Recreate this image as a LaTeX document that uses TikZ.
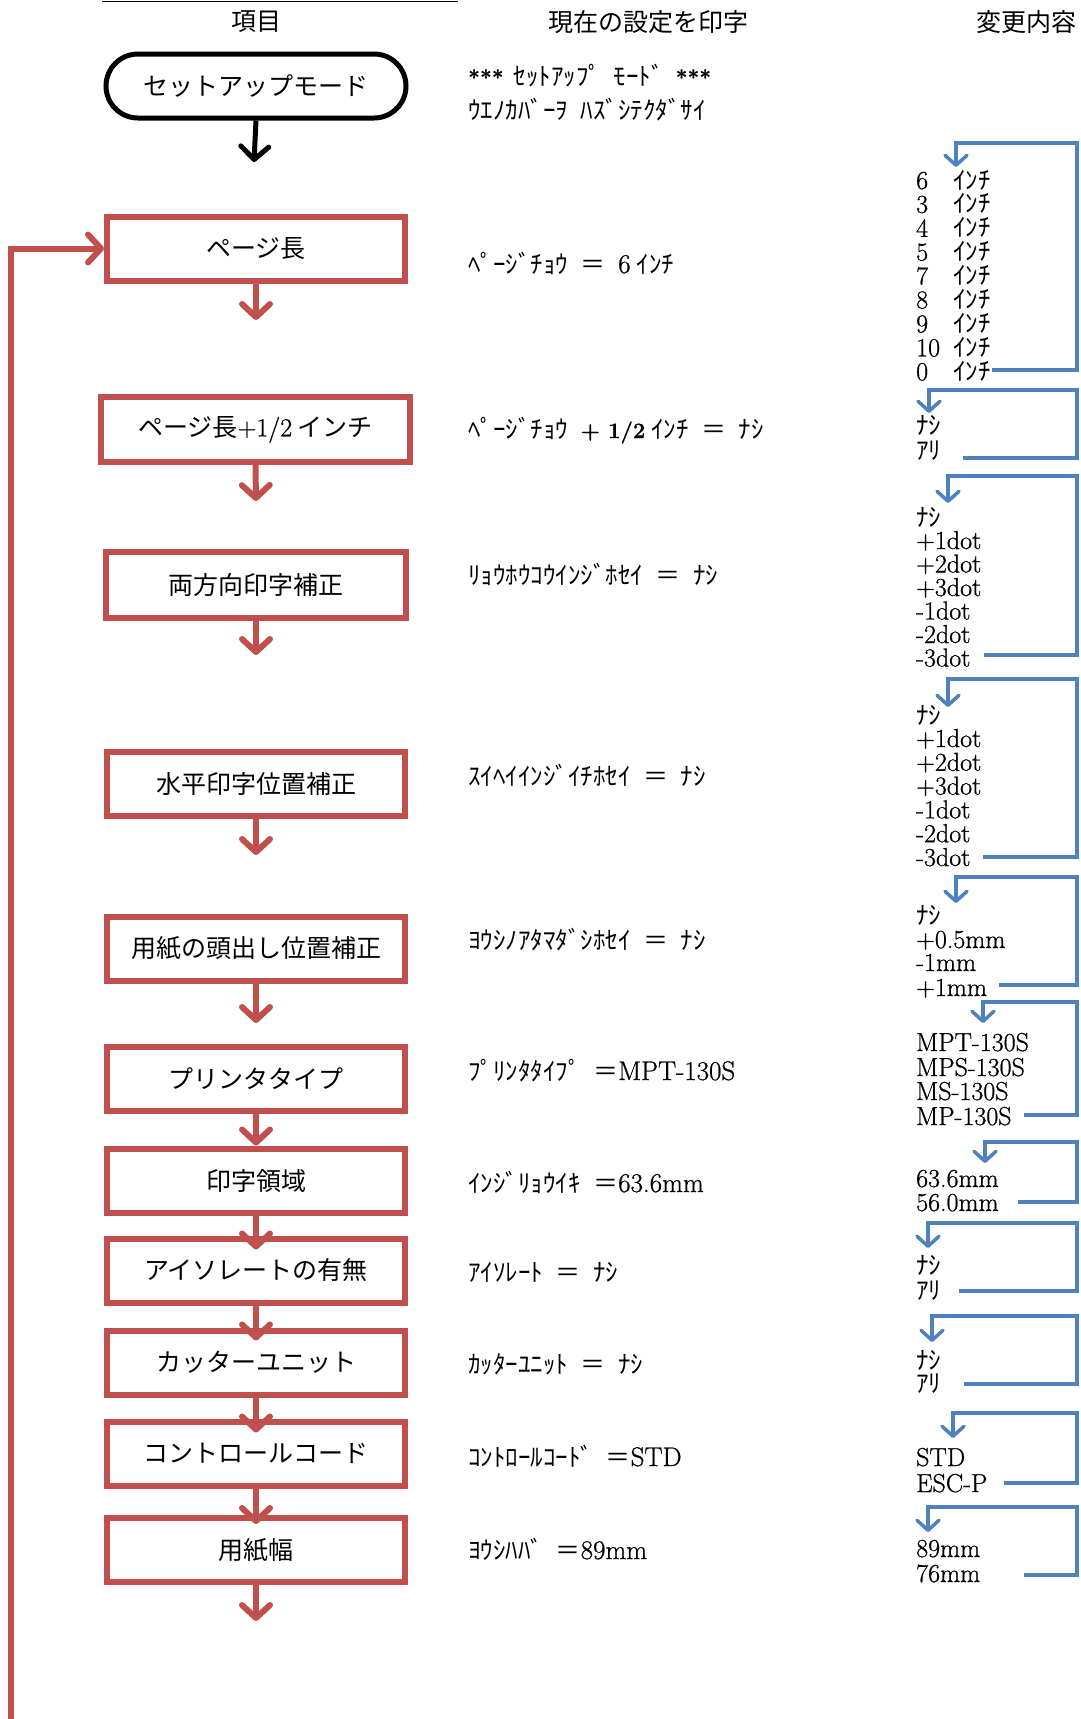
\documentclass[tikz,border=0pt]{standalone}
\usepackage{fontspec}
\setmainfont{Latin Modern Roman}[FakeBold=0.8]
\newfontfamily\jp{Noto Sans CJK JP}
\usetikzlibrary{arrows.meta}
\definecolor{ored}{HTML}{C0504D}
\definecolor{oblue}{HTML}{4F81BD}
\newcommand{\hsp}{\hspace{12.5pt}}
\newcommand{\jtx}[1]{{\jp\fontsize{25}{30}\selectfont #1}}
\tikzset{
  jpfont/.style={font={\jp\fontsize{25}{30}\selectfont}},
  hdr/.style={jpfont, inner sep=0pt},
  redbox/.style={draw=ored, line width=6pt, minimum width=298pt, minimum height=64pt, inner sep=0pt, jpfont},
  startbox/.style={draw=black, line width=5pt, rounded corners=32pt, minimum width=300pt, minimum height=64pt, inner sep=0pt, jpfont},
  redarr/.style={draw=ored, line width=6pt, -{Straight Barb[length=13pt,width=28pt,round]}},
  blkarr/.style={draw=black, line width=5pt, -{Straight Barb[length=13pt,width=28pt,round]}},
  blueloop/.style={draw=oblue, line width=3.5pt, -{Straight Barb[length=10pt,width=22pt,round]}},
  midtxt/.style={anchor=base west, inner sep=0pt, font={\fontsize{27}{30}\selectfont}},
  rnum/.style={anchor=base west, inner sep=0pt, font={\fontsize{26}{30}\selectfont}},
  rkana/.style={anchor=base west, inner sep=0pt, jpfont},
}
\begin{document}
\begin{tikzpicture}[x=1pt,y=-1pt]
\useasboundingbox[fill=white] (0,0) rectangle (1080,1719);

% header
\coordinate (hl1) at (102,1.5);
\coordinate (hl2) at (458,1.5);
\draw[line width=1.5pt] (hl1) -- (hl2);
\node[hdr] (h1) at (256,22) {項目};
\node[hdr] (h2) at (648,22) {現在の設定を印字};
\node[hdr] (h3) at (1026,22) {変更内容};

% flow column
\node[startbox] (start) at (256,86) {セットアップモード};
\node[redbox] (b1) at (256,248.5) {ページ長};
\node[redbox, minimum width=309pt, minimum height=65pt] (b2) at (255.5,429.5) {ページ長{\rmfamily\fontsize{26}{30}\selectfont +1/2} インチ};
\node[redbox, minimum width=300pt, minimum height=66pt] (b3) at (256,585) {両方向印字補正};
\node[redbox] (b4) at (256,783.5) {水平印字位置補正};
\node[redbox] (b5) at (256,948.5) {用紙の頭出し位置補正};
\node[redbox] (b6) at (256,1078.5) {プリンタタイプ};
\node[redbox] (b7) at (256,1180.5) {印字領域};
\node[redbox] (b8) at (256,1270.5) {アイソレートの有無};
\node[redbox] (b9) at (256,1362.5) {カッターユニット};
\node[redbox] (b10) at (256,1453.5) {コントロールコード};
\node[redbox] (b11) at (256,1550) {用紙幅};

\coordinate (a0) at (254,162);
\coordinate (a1) at (256,320);
\coordinate (a2) at (256,501);
\coordinate (a3) at (256,655);
\coordinate (a4) at (256,855);
\coordinate (a5) at (256,1023);
\coordinate (a11) at (256,1621);
\draw[blkarr] (start.south) -- (a0);
\draw[redarr] (b1.south) -- (a1);
\draw[redarr] (b2.south) -- (a2);
\draw[redarr] (b3.south) -- (a3);
\draw[redarr] (b4.south) -- (a4);
\draw[redarr] (b5.south) -- (a5);
\draw[redarr] (b6.south) -- (b7.north);
\draw[redarr] (b7.south) -- ([yshift=-14pt]b8.north);
\draw[redarr] (b8.south) -- ([yshift=-13pt]b9.north);
\draw[redarr] (b9.south) -- ([yshift=-14pt]b10.north);
\draw[redarr] (b10.south) -- ([yshift=-9pt]b11.north);
\draw[redarr] (b11.south) -- (a11);

% return line
\coordinate (ret) at (11,1722);
\draw[redarr] (ret) |- (b1.west);

% middle column
\node[midtxt] (m1) at (468,85) {{\bfseries\fontsize{21}{25}\selectfont ***}\hspace{10pt}\jtx{ｾｯﾄｱｯﾌﾟ\hsp ﾓｰﾄﾞ}\hspace{12pt}{\bfseries\fontsize{21}{25}\selectfont ***}};
\node[midtxt] (m2) at (468,119) {\jtx{ｳｴﾉｶﾊﾞｰｦ\hsp ﾊｽﾞｼﾃｸﾀﾞｻｲ}};
\node[midtxt] (m3) at (468,273) {\jtx{ﾍﾟｰｼﾞﾁｮｳ\hsp＝\hsp}6\hspace{6pt}\jtx{ｲﾝﾁ}};
\node[midtxt] (m4) at (468,438) {\jtx{ﾍﾟｰｼﾞﾁｮｳ}\hsp{\bfseries\fontsize{22}{26}\selectfont + 1/2}\hspace{6pt}\jtx{ｲﾝﾁ\hsp＝\hsp ﾅｼ}};
\node[midtxt] (m5) at (468,584) {\jtx{ﾘｮｳﾎｳｺｳｲﾝｼﾞﾎｾｲ\hsp＝\hsp ﾅｼ}};
\node[midtxt] (m6) at (468,785) {\jtx{ｽｲﾍｲｲﾝｼﾞｲﾁﾎｾｲ\hsp＝\hsp ﾅｼ}};
\node[midtxt] (m7) at (468,949) {\jtx{ﾖｳｼﾉｱﾀﾏﾀﾞｼﾎｾｲ\hsp＝\hsp ﾅｼ}};
\node[midtxt] (m8) at (468,1080) {\jtx{ﾌﾟﾘﾝﾀﾀｲﾌﾟ\hsp＝}MPT-130S};
\node[midtxt] (m9) at (468,1192) {\jtx{ｲﾝｼﾞﾘｮｳｲｷ\hsp＝}63.6mm};
\node[midtxt] (m10) at (468,1281) {\jtx{ｱｲｿﾚｰﾄ\hsp＝\hsp ﾅｼ}};
\node[midtxt] (m11) at (468,1373) {\jtx{ｶｯﾀｰﾕﾆｯﾄ\hsp＝\hsp ﾅｼ}};
\node[midtxt] (m12) at (468,1466) {\jtx{ｺﾝﾄﾛｰﾙｺｰﾄﾞ\hsp＝}STD};
\node[midtxt] (m13) at (468,1559) {\jtx{ﾖｳｼﾊﾊﾞ\hsp＝}89mm};

% right column
\foreach \n [count=\i] in {6,3,4,5,7,8,9,10,0}{
  \node[rnum] (ga\i) at (916,{180+23.9*(\i-1)+9}) {\n};
  \node[rkana] (gb\i) at (953,{180+23.9*(\i-1)+9}) {ｲﾝﾁ};
}
\node[rkana] (g2a) at (916,434) {ﾅｼ};
\node[rkana] (g2b) at (916,459) {ｱﾘ};
\node[rkana] (g3a) at (916,526) {ﾅｼ};
\foreach \t [count=\i] in {+1dot,+2dot,+3dot,-1dot,-2dot,-3dot}{
  \node[rnum] (gc\i) at (916,{540+23.5*(\i-1)+9}) {\t};
}
\node[rkana] (g4a) at (916,724) {ﾅｼ};
\foreach \t [count=\i] in {+1dot,+2dot,+3dot,-1dot,-2dot,-3dot}{
  \node[rnum] (gd\i) at (916,{738+23.8*(\i-1)+9}) {\t};
}
\node[rkana] (g5a) at (916,924) {ﾅｼ};
\node[rnum] (g5b) at (916,948) {+0.5mm};
\node[rnum] (g5c) at (916,971) {-1mm};
\node[rnum] (g5d) at (916,996) {+1mm};
\node[rnum] (g6a) at (916,1051) {MPT-130S};
\node[rnum] (g6b) at (916,1076) {MPS-130S};
\node[rnum] (g6c) at (916,1100) {MS-130S};
\node[rnum] (g6d) at (916,1125) {MP-130S};
\node[rnum] (g7a) at (916,1187) {63.6mm};
\node[rnum] (g7b) at (916,1211) {56.0mm};
\node[rkana] (g8a) at (916,1274) {ﾅｼ};
\node[rkana] (g8b) at (916,1299) {ｱﾘ};
\node[rkana] (g9a) at (916,1369) {ﾅｼ};
\node[rkana] (g9b) at (916,1392) {ｱﾘ};
\node[rnum] (g10a) at (916,1466) {STD};
\node[rnum] (g10b) at (916,1492) {ESC-P};
\node[rnum] (g11a) at (916,1557) {89mm};
\node[rnum] (g11b) at (916,1582) {76mm};

% blue loops
\foreach \sx/\sy/\ty/\lx/\tp [count=\i] in {
  992/370/143/956/167,
  963/458/390/929/413,
  984/655/476/948/503,
  983/857/679/948/707,
  999/985/877/956/903,
  1024/1115/1002/983/1023,
  1018/1202/1142/985/1163,
  959/1291/1223/928/1248,
  964/1384/1316/932/1342,
  1004/1483/1413/953/1438,
  1024/1575/1507/928/1532}{
  \coordinate (ls\i) at (\sx,\sy);
  \coordinate (lt\i) at (\lx,\tp);
  \draw[blueloop] (ls\i) -| (1077,\ty) -| (lt\i);
}
\end{tikzpicture}
\end{document}
